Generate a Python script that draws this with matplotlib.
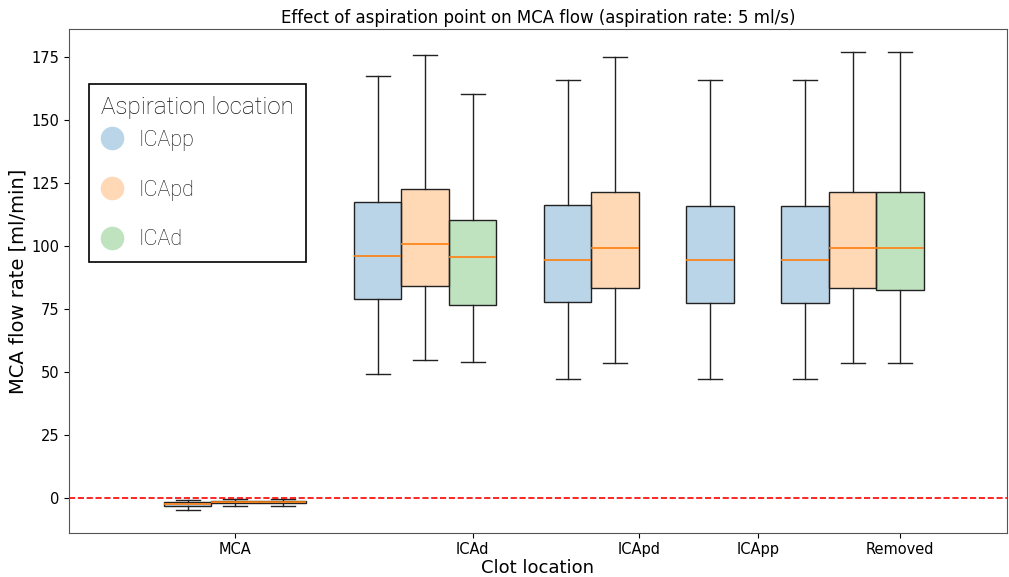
import matplotlib
matplotlib.use("Agg")
import matplotlib.pyplot as plt
from matplotlib.lines import Line2D
from matplotlib.colors import to_rgba

# clot locations on the x axis
clot_locations = ["MCA", "ICAd", "ICApd", "ICApp", "Removed"]
aspiration_locations = ["ICApp", "ICApd", "ICAd"]

# (whislo, q1, median, q3, whishi) per clot location, None where not measured
icapp_stats = [(-4.9, -3.2, -2.4, -1.7, -0.9),
               (49.3, 79.0, 96.0, 117.3, 167.6),
               (47.3, 77.6, 94.6, 116.1, 166.1),
               (47.2, 77.4, 94.3, 115.9, 166.0),
               (47.2, 77.4, 94.3, 115.9, 166.0)]
icapd_stats = [(-3.3, -2.2, -1.6, -1.1, -0.4),
               (54.6, 84.1, 100.7, 122.5, 175.7),
               (53.7, 83.2, 99.1, 121.4, 175.1),
               None,
               (53.7, 83.2, 99.1, 121.3, 177.1)]
icad_stats = [(-3.3, -2.2, -1.6, -1.1, -0.4),
              (54.0, 76.5, 95.6, 110.2, 160.3),
              None,
              None,
              (53.7, 82.5, 99.1, 121.4, 177.0)]

series = [icapp_stats, icapd_stats, icad_stats]
colors = ["tab:blue", "tab:orange", "tab:green"]
tick_pos = [1, 6, 9.5, 12, 15]

fig, ax = plt.subplots(figsize=(10.09, 5.77), dpi=100)
fig.subplots_adjust(left=0.0684, right=0.998, top=0.9497, bottom=0.0763)

stats, positions, faces = [], [], []
pos = 0
for ci in range(len(clot_locations)):
    for si, s in enumerate(series):
        st = s[ci]
        if st is None:
            continue
        lo, q1, med, q3, hi = st
        stats.append(dict(whislo=lo, q1=q1, med=med, q3=q3, whishi=hi, fliers=[]))
        positions.append(pos)
        faces.append(to_rgba(colors[si], 0.3))
        pos += 1
    pos += 1  # gap between clot groups

bp = ax.bxp(stats, positions=positions, widths=1, patch_artist=True,
            showfliers=False,
            boxprops=dict(edgecolor="#222222", linewidth=1),
            whiskerprops=dict(color="#222222", linewidth=1),
            capprops=dict(color="#222222", linewidth=1),
            medianprops=dict(color="tab:orange", linewidth=1.2))
for patch, fc in zip(bp["boxes"], faces):
    patch.set_facecolor(fc)

ax.axhline(0, color="red", linestyle="--", linewidth=1.2)

ax.set_xlim(-2.5, 17.25)
ax.set_xticks(tick_pos)
ax.set_xticklabels(clot_locations, fontsize=10.5)
ax.tick_params(axis="x", pad=3)
ax.tick_params(axis="y", labelsize=10.5)
ax.set_xlabel("Clot location", fontsize=13, labelpad=1.5)
ax.set_ylabel("MCA flow rate [ml/min]", fontsize=14, labelpad=2.5)
ax.set_title("Effect of aspiration point on MCA flow (aspiration rate: 5 ml/s)",
             fontsize=12, pad=4.5)
for sp in ax.spines.values():
    sp.set_color("#555555")

handles = [Line2D([], [], marker="o", linestyle="none", markersize=17,
                  markerfacecolor=to_rgba(c, 0.3), markeredgecolor="none")
           for c in colors]
leg_font = ["Roboto", "DejaVu Sans"]
leg = ax.legend(handles, aspiration_locations, title="Aspiration location",
                loc="upper left", bbox_to_anchor=(0.0213, 0.891),
                prop=dict(family=leg_font, weight="light", size=15.5),
                title_fontproperties=dict(family=leg_font, weight="light", size=17.4),
                labelspacing=1.33, handlelength=1.0, handletextpad=0.75,
                borderpad=0.55, borderaxespad=0, fancybox=False,
                edgecolor="black", framealpha=1, labelcolor="#111111")
leg.get_title().set_color("#111111")
leg._legend_box.align = "left"
leg._legend_box.sep = 8.0
leg.get_frame().set_linewidth(1.2)

fig.savefig("out.png", dpi=100)
